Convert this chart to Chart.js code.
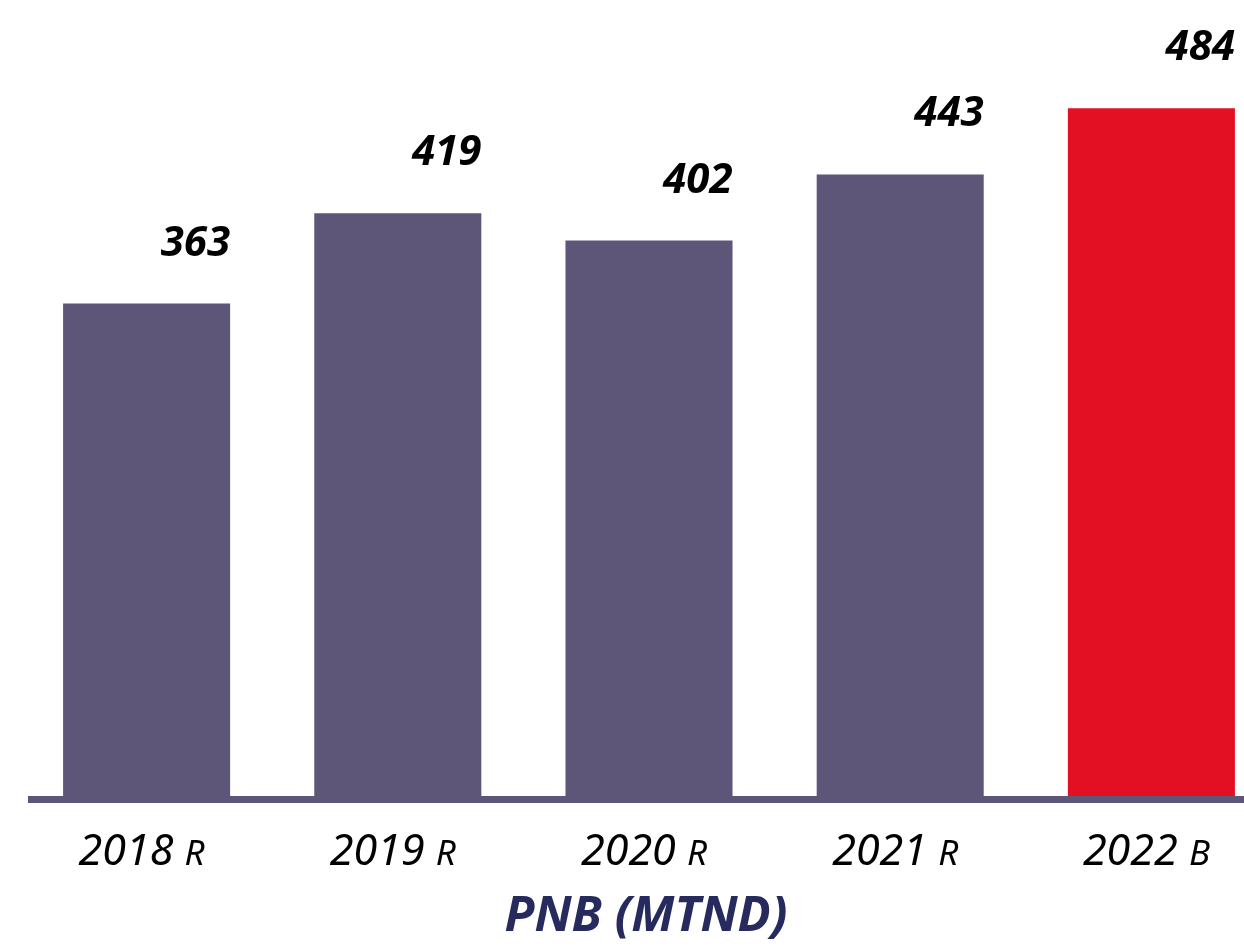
<!DOCTYPE html>
<html>
<head>
<meta charset="utf-8">
<script src="https://cdn.jsdelivr.net/npm/chart.js@4.4.0/dist/chart.umd.min.js"></script>
<style>
  html, body { margin: 0; padding: 0; background: #fff; overflow: hidden; }
  #wrap { width: 1280px; height: 947px; }
</style>
</head>
<body>
<div id="wrap"><canvas id="pnbChart" width="1280" height="947"></canvas></div>
<script>
// PNB chart data
let years = ["2018", "2019", "2020", "2021", "2022"];
let yearTags = ["R", "R", "R", "R", "B"];
let pnbValues = [363, 419, 402, 443, 484];
let barColors = ["#5d5679", "#5d5679", "#5d5679", "#5d5679", "#e31024"];
let chartTitle = "PNB (MTND)";

const FONT = "'Noto Sans', 'Open Sans', sans-serif";

const labelsPlugin = {
    id: 'pnbLabels',
    afterDatasetsDraw(chart) {
        const ctx = chart.ctx;
        const area = chart.chartArea;
        const meta = chart.getDatasetMeta(0);
        const xScale = chart.scales.x;

        // axis line under the bars
        ctx.save();
        ctx.fillStyle = '#5d5679';
        ctx.fillRect(area.left + 7, area.bottom, area.right - area.left, 7);

        // value labels, right aligned on the bar
        ctx.fillStyle = '#000';
        ctx.font = "italic bold 42px " + FONT;
        ctx.textAlign = 'right';
        ctx.textBaseline = 'alphabetic';
        meta.data.forEach((bar, i) => {
            ctx.fillText(pnbValues[i], bar.x + bar.width / 2, bar.y - 48);
        });

        // category labels "2018 R"
        ctx.textAlign = 'left';
        years.forEach((yr, i) => {
            const cx = xScale.getPixelForValue(i) - 5;
            ctx.font = "italic 43px " + FONT;
            const w1 = ctx.measureText(yr + " ").width;
            ctx.font = "italic 35px " + FONT;
            const w2 = ctx.measureText(yearTags[i]).width;
            const x0 = cx - (w1 + w2) / 2;
            ctx.font = "italic 43px " + FONT;
            ctx.fillText(yr, x0, 865);
            ctx.font = "italic 35px " + FONT;
            ctx.fillText(yearTags[i], x0 + w1, 865);
        });

        // title
        ctx.fillStyle = '#272a5c';
        ctx.font = "italic bold 49px " + FONT;
        ctx.textAlign = 'center';
        ctx.fillText(chartTitle, (area.left + area.right) / 2 - 3, 931);
        ctx.restore();
    }
};

const ct1 = document.getElementById('pnbChart').getContext('2d');
const pnbChart = new Chart(ct1, {
    type: 'bar',
    data: {
        labels: years,
        datasets: [{
            label: 'PNB',
            data: pnbValues,
            backgroundColor: barColors,
            borderWidth: 0,
            barPercentage: 0.665,
            categoryPercentage: 1
        }]
    },
    options: {
        responsive: false,
        animation: false,
        layout: {
            padding: { left: 21, right: 3, top: 0, bottom: 151 }
        },
        scales: {
            x: {
                display: false,
                offset: true
            },
            y: {
                display: false,
                min: 58,
                max: 551
            }
        },
        plugins: {
            legend: { display: false },
            tooltip: { enabled: false }
        }
    },
    plugins: [labelsPlugin]
});
</script>
</body>
</html>
